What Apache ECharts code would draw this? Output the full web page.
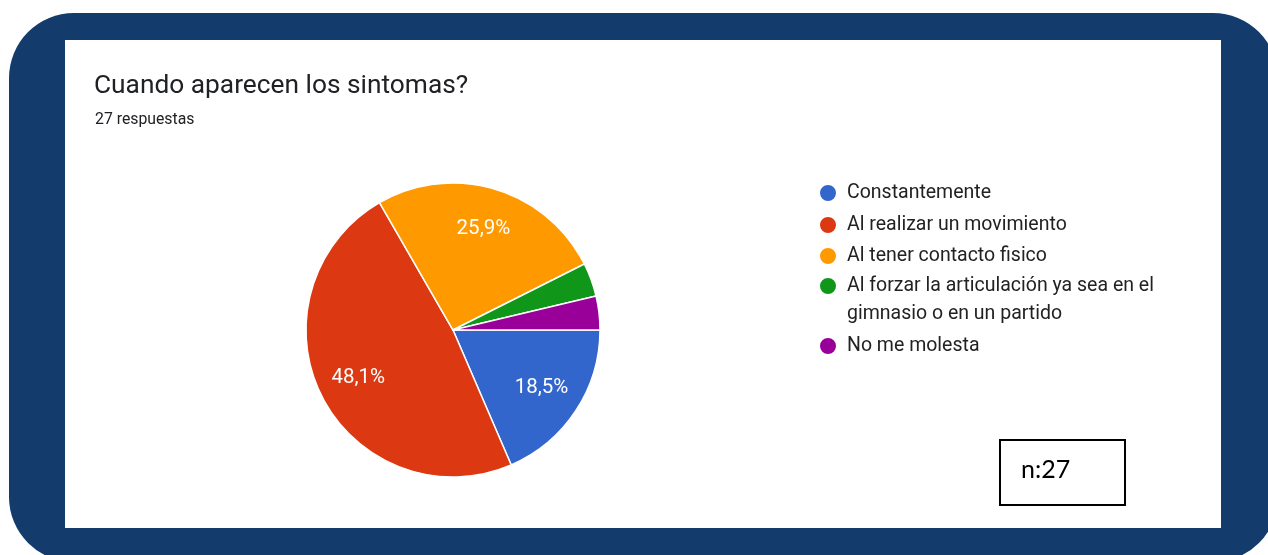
<!DOCTYPE html>
<html>
<head>
<meta charset="utf-8">
<title>Cuando aparecen los sintomas?</title>
<script src="https://cdn.jsdelivr.net/npm/echarts@6/dist/echarts.min.js"></script>
<style>
  html, body { margin: 0; padding: 0; background: #ffffff; }
  #chart { width: 1268px; height: 555px; }
</style>
</head>
<body>
<div id="chart"></div>
<script>
// Survey answers: when do the symptoms appear?
const categories = [
  'Constantemente',
  'Al realizar un movimiento',
  'Al tener contacto fisico',
  'Al forzar la articulación ya sea en el gimnasio o en un partido',
  'No me molesta'
];
// Legend text, wrapped the way it is shown
const legendLines = [
  ['Constantemente'],
  ['Al realizar un movimiento'],
  ['Al tener contacto fisico'],
  ['Al forzar la articulación ya sea en el', 'gimnasio o en un partido'],
  ['No me molesta']
];
const counts = [5, 13, 7, 1, 1];
const sliceColors = ['#3366cc', '#dc3912', '#ff9900', '#109618', '#990099'];

const titleText = 'Cuando aparecen los sintomas?';
const total = counts.reduce((a, b) => a + b, 0);

const pieData = categories.map((name, i) => ({
  name: name,
  value: counts[i],
  itemStyle: { color: sliceColors[i] }
}));

const fmtPercent = v => (v / total * 100).toFixed(1).replace('.', ',') + '%';

// vertical centres of the legend rows
const legendRowCenters = [192, 224, 255, 286, 345];
const FONT = 'Roboto, "Noto Sans", Arial, sans-serif';
const LEGEND_LH = 28;

const legends = categories.map((name, i) => {
  const lines = legendLines[i];
  const multi = lines.length > 1;
  // A wrapped entry gets an empty spacer line on top so that, with the block
  // centred on the icon, its first line sits on the icon row.
  const boxH = multi ? LEGEND_LH * (lines.length * 2 - 1) : 18;
  const rectTop = Math.min(0, 9 - boxH / 2);
  const label = multi
    ? ['{sp| }'].concat(lines.map(l => '{t|' + l + '}')).concat(lines.slice(2).map(() => '{sp| }')).join('\n')
    : lines[0];
  return {
    data: [name],
    orient: 'vertical',
    left: 818,
    top: legendRowCenters[i] - 9 + rectTop,
    padding: 0,
    itemWidth: 18,
    itemHeight: 18,
    icon: 'circle',
    selectedMode: false,
    formatter: () => label,
    textStyle: {
      fontFamily: FONT,
      fontSize: 19.5,
      color: '#222222',
      lineHeight: 18,
      padding: [0, 0, 0, 5],
      rich: {
        sp: { fontSize: 10, lineHeight: LEGEND_LH, fontFamily: FONT },
        t: { fontSize: 19.5, lineHeight: LEGEND_LH, fontFamily: FONT, color: '#222222' }
      }
    }
  };
});

const chart = echarts.init(document.getElementById('chart'), null, { renderer: 'canvas' });

chart.setOption({
  animation: false,
  backgroundColor: '#ffffff',
  title: [
    {
      text: titleText,
      left: 94,
      top: 73,
      padding: 0,
      textStyle: { fontFamily: FONT, fontSize: 26.3, fontWeight: 'normal', color: '#202124' }
    },
    {
      text: total + ' respuestas',
      left: 95,
      top: 112,
      padding: 0,
      textStyle: { fontFamily: FONT, fontSize: 15.8, fontWeight: 'normal', color: '#202124' }
    }
  ],
  legend: legends,
  graphic: [
    {
      type: 'rect',
      z: -20,
      silent: true,
      shape: { x: 9, y: 13, width: 1269, height: 549, r: 65 },
      style: { fill: '#133b6b' }
    },
    {
      type: 'rect',
      z: -19,
      silent: true,
      shape: { x: 65, y: 40, width: 1156, height: 488 },
      style: { fill: '#ffffff' }
    },
    {
      type: 'rect',
      z: 10,
      silent: true,
      shape: { x: 1000, y: 440, width: 125, height: 65 },
      style: { fill: '#ffffff', stroke: '#000000', lineWidth: 2 }
    },
    {
      type: 'text',
      z: 11,
      silent: true,
      x: 1021,
      y: 470,
      style: {
        text: 'n:' + total,
        fontFamily: 'Lato, "Open Sans", sans-serif',
        fontSize: 25,
        fill: '#000000',
        verticalAlign: 'middle'
      }
    }
  ],
  series: [
    {
      // the slices
      type: 'pie',
      center: [453, 330],
      radius: [0, 147],
      startAngle: 0,
      clockwise: true,
      avoidLabelOverlap: false,
      label: { show: false },
      labelLine: { show: false },
      emphasis: { disabled: true },
      itemStyle: { borderColor: '#ffffff', borderWidth: 1.5 },
      data: pieData
    },
    {
      // transparent ring that carries the percentage labels further out
      type: 'pie',
      center: [453, 330],
      radius: [59, 147],
      startAngle: 0,
      clockwise: true,
      silent: true,
      avoidLabelOverlap: false,
      emphasis: { disabled: true },
      itemStyle: { color: 'rgba(0,0,0,0)', borderWidth: 0 },
      labelLine: { show: false },
      label: {
        show: true,
        position: 'inside',
        fontFamily: FONT,
        fontSize: 20.5,
        color: '#ffffff',
        formatter: p => (p.value / total >= 0.05 ? fmtPercent(p.value) : '')
      },
      data: categories.map((name, i) => ({ name: name, value: counts[i] }))
    }
  ]
});
</script>
</body>
</html>
